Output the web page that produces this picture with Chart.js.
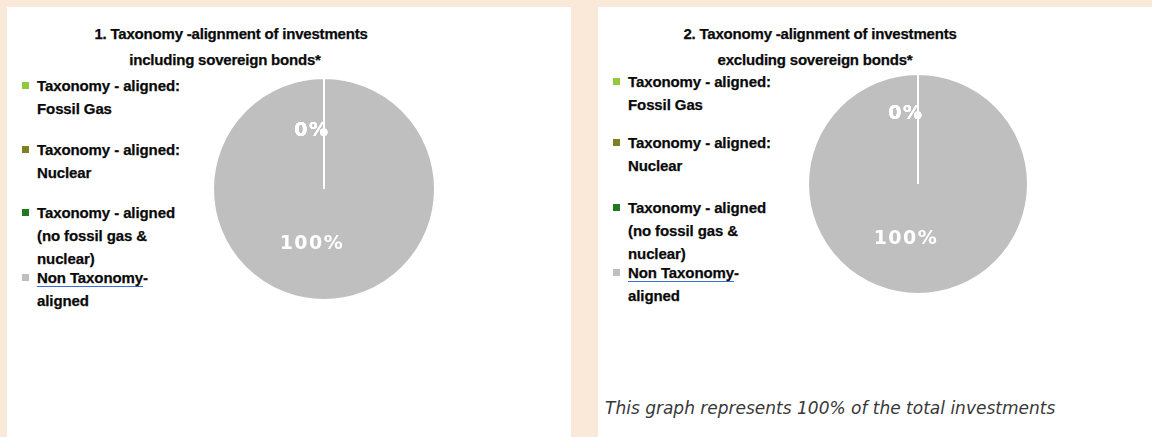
<!DOCTYPE html>
<html><head><meta charset="utf-8">
<script src="https://cdn.jsdelivr.net/npm/chart.js@4/dist/chart.umd.min.js"></script>
<style>
html,body{margin:0;padding:0;}
body{width:1152px;height:437px;background:#FAE9D9;position:relative;overflow:hidden;font-family:"Liberation Sans",Arial,sans-serif;color:#0a0a0a;}
.panel{position:absolute;background:#fff;top:7px;height:430px;}
.title{position:absolute;width:400px;text-align:center;font-weight:bold;font-size:15px;line-height:20px;white-space:nowrap;-webkit-text-stroke:0.25px #0a0a0a;letter-spacing:-0.2px;}
.leg{position:absolute;font-weight:bold;font-size:15px;line-height:23px;white-space:pre-line;-webkit-text-stroke:0.25px #0a0a0a;letter-spacing:-0.1px;}
.mk{position:absolute;width:7px;height:7px;}
.ul{text-decoration:underline;text-decoration-color:#3A6FD8;text-underline-offset:3px;}
.note{position:absolute;left:605px;top:398px;font-family:"DejaVu Sans",Verdana,sans-serif;font-style:italic;font-size:17px;color:#383838;white-space:nowrap;}
canvas{position:absolute;}
</style>
</head>
<body>
<div class="panel" style="left:7px;width:564px;"></div>
<div class="panel" style="left:598px;width:554px;"></div>
<div id="root"></div>
<canvas id="c1" width="260" height="260" style="left:194px;top:59px;"></canvas>
<canvas id="c2" width="260" height="260" style="left:788px;top:54px;"></canvas>
<script>
// ---- data ----
const categories = [
  "Taxonomy - aligned:\nFossil Gas",
  "Taxonomy - aligned:\nNuclear",
  "Taxonomy - aligned\n(no fossil gas &\nnuclear)",
  "Non Taxonomy-\naligned"
];
const colors = ["#92C83E", "#7F7F26", "#1F7A1F", "#BFBFBF"];
const includingSovereign = [0, 0, 0, 100];
const excludingSovereign = [0, 0, 0, 100];
const title1 = ["1. Taxonomy -alignment of investments", "including sovereign bonds*"];
const title2 = ["2. Taxonomy -alignment of investments", "excluding sovereign bonds*"];
const footnote = "This graph represents 100% of the total investments";

// ---- layout text ----
const root = document.getElementById('root');
function addTitle(lines, centers, tops){
  lines.forEach((t,i)=>{
    const d=document.createElement('div'); d.className='title';
    d.style.left=(centers[i]-200)+'px'; d.style.top=tops[i]+'px'; d.textContent=t; root.appendChild(d);
  });
}
addTitle(title1,[231,225],[24,50]);
addTitle(title2,[820,815],[24,50]);

function addLegend(mx, tx, tops){
  categories.forEach((c,i)=>{
    const m=document.createElement('div'); m.className='mk';
    m.style.left=mx+'px'; m.style.top=(tops[i]+8)+'px'; m.style.background=colors[i]; root.appendChild(m);
    const d=document.createElement('div'); d.className='leg';
    d.style.left=tx+'px'; d.style.top=tops[i]+'px';
    if(i===3){
      const parts=c.split('-');
      d.innerHTML='<span class="ul">'+parts[0]+'</span>-'+parts.slice(1).join('-');
    } else d.textContent=c;
    root.appendChild(d);
  });
}
addLegend(22, 37, [74, 138, 201, 266]);
addLegend(613, 628, [70, 131, 196, 261]);

const n=document.createElement('div'); n.className='note'; n.textContent=footnote; root.appendChild(n);

// ---- charts ----
const pctLabels = {
  id:'pctLabels',
  afterDatasetsDraw(chart, args, opts){
    const ctx=chart.ctx, meta=chart.getDatasetMeta(0), data=chart.data.datasets[0].data;
    ctx.save();
    ctx.fillStyle='#fff';
    ctx.font='bold 19px "DejaVu Sans", Verdana, sans-serif';
    try{ctx.letterSpacing='1.5px';}catch(e){}
    ctx.textAlign='center'; ctx.textBaseline='middle';
    meta.data.forEach((arc,i)=>{
      const p=arc.getProps(['x','y','startAngle','endAngle','outerRadius'],true);
      const mid=(p.startAngle+p.endAngle)/2;
      const f=data[i]===0?opts.zeroR:opts.r;
      ctx.fillText(data[i]+'%', p.x+Math.cos(mid)*p.outerRadius*f+opts.dx, p.y+Math.sin(mid)*p.outerRadius*f);
    });
    ctx.restore();
  }
};

function makePie(id, values, radius, zeroR, r){
  new Chart(document.getElementById(id), {
    type:'pie',
    data:{labels:categories, datasets:[{data:values, backgroundColor:colors, borderColor:'#ffffff', borderWidth:2}]},
    options:{
      responsive:false, animation:false, radius:radius,
      plugins:{legend:{display:false}, tooltip:{enabled:false}, pctLabels:{zeroR:zeroR, r:r, dx:-12}}
    },
    plugins:[pctLabels]
  });
}
makePie('c1', includingSovereign, 111, 0.52, 0.5);
makePie('c2', excludingSovereign, 110, 0.64, 0.5);
</script>
</body></html>
